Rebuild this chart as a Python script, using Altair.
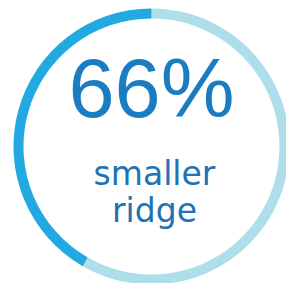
import altair as alt
import pandas as pd

segments = ["rest", "share"]
values = [58.3, 41.7]
seg_order = [1, 2]
seg_colors = ["#addeea", "#22a9e1"]

big_label = ["66%"]
small_labels = ["smaller", "ridge"]

W, H = 278, 275
CX, CY = 143.5, 138.5

arc_df = pd.DataFrame({"segment": segments, "value": values, "order": seg_order})

ring = alt.Chart(arc_df).mark_arc(outerRadius=138, innerRadius=128, stroke=None).encode(
    theta=alt.Theta("value:Q", stack=True),
    order=alt.Order("order:Q"),
    color=alt.Color("segment:N", scale=alt.Scale(domain=segments, range=seg_colors), legend=None),
    x=alt.value(CX),
    y=alt.value(CY),
)

big = alt.Chart(pd.DataFrame({"t": big_label})).mark_text(
    font="Liberation Sans", fontSize=83, color="#1a7cc1", baseline="alphabetic", align="center"
).encode(text="t:N", x=alt.value(143.5), y=alt.value(109))

small_df = pd.DataFrame({"t": small_labels, "yy": [177, 214]})
small = alt.Chart(small_df).mark_text(
    font="DejaVu Sans", fontSize=33, color="#2172b4", baseline="alphabetic", align="center"
).encode(text="t:N", x=alt.value(146.5), y=alt.Y("yy:Q", scale=None))

chart = alt.layer(ring, big, small).properties(
    width=W, height=H, padding=0,
    autosize=alt.AutoSizeParams(type="none"),
).configure_view(stroke=None)

chart.save("out.html", embed_options={"renderer": "svg", "actions": False})
